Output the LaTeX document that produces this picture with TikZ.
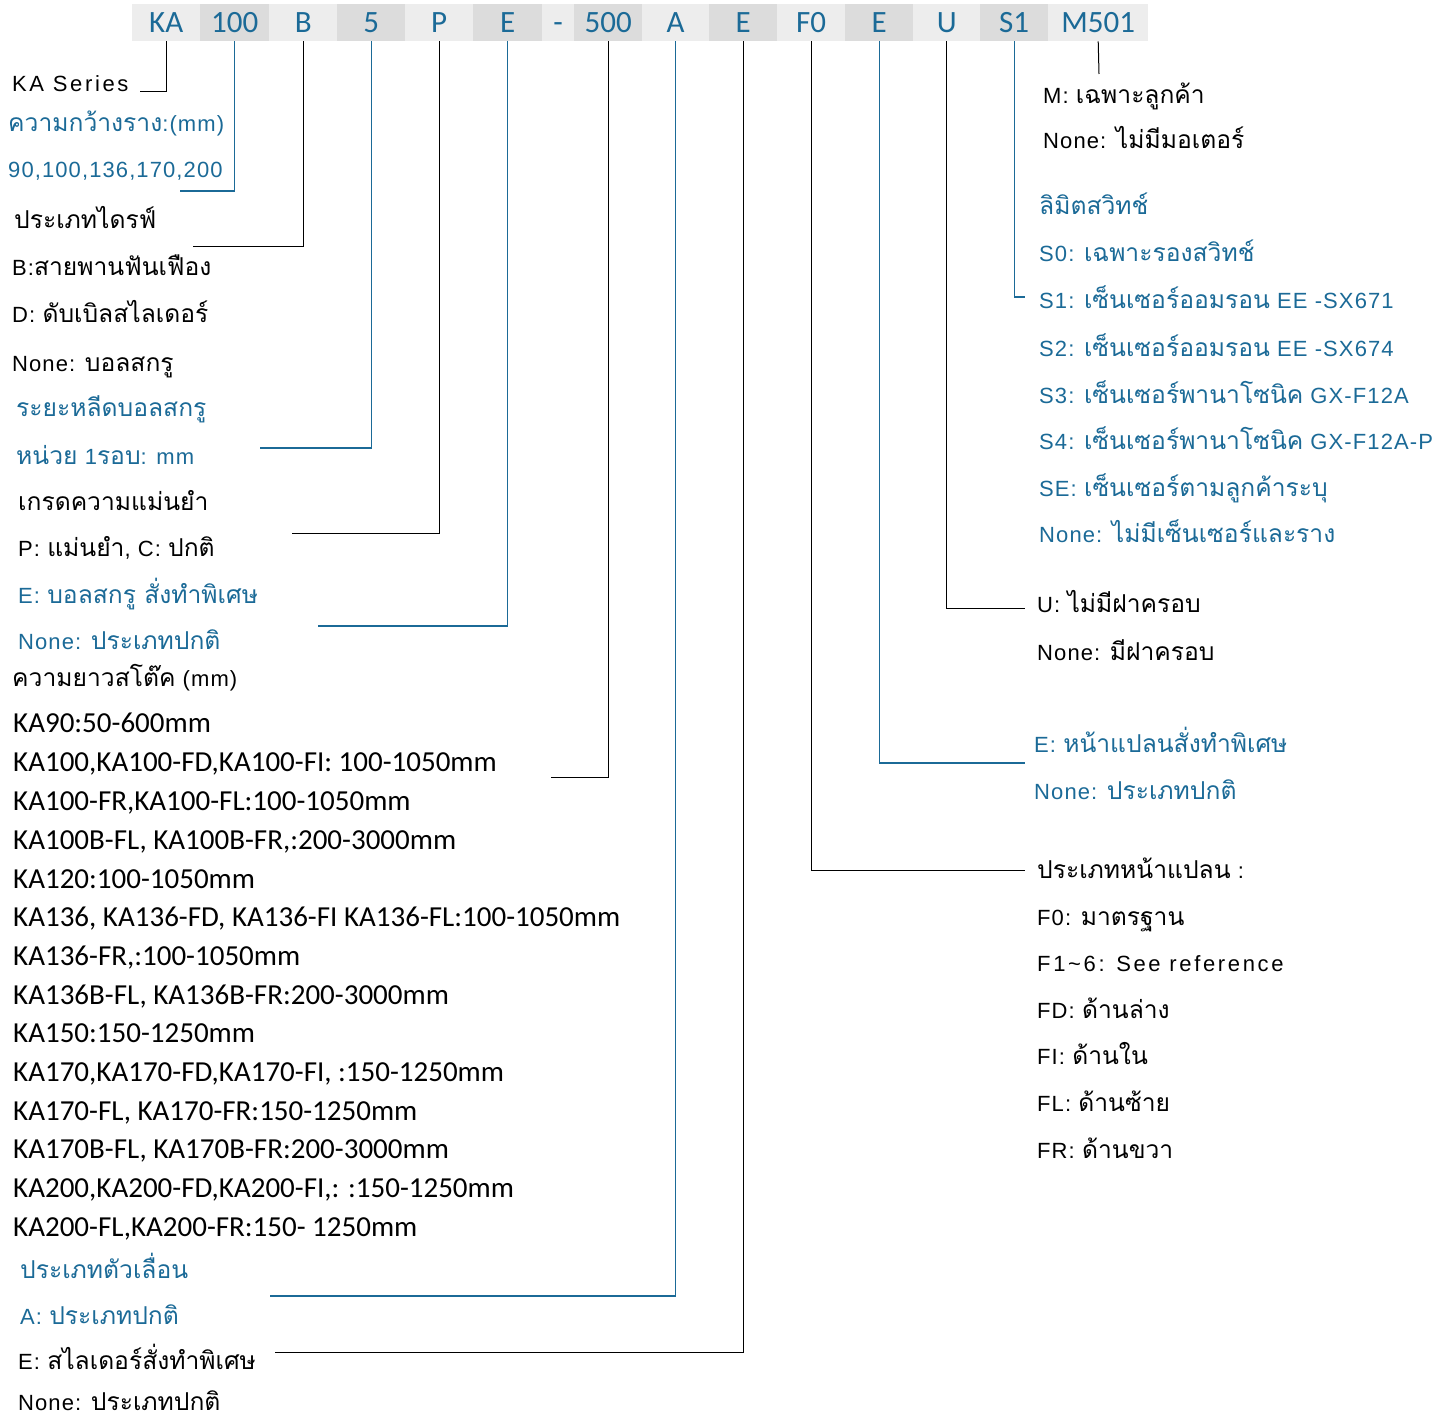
\documentclass[tikz,border=0pt]{standalone}
\usepackage{fontspec}
\setmainfont[LetterSpace=5]{Liberation Sans}
\newfontfamily\thf[Script=Thai,Scale=1.12]{Loma}
\newfontfamily\calf{Carlito}
\newfontfamily\wideLS[LetterSpace=12]{Liberation Sans}
\newcommand\T[1]{{\thf #1}}
\definecolor{kblue}{HTML}{1B6A97}
\definecolor{cellA}{HTML}{EDEDED}
\definecolor{cellB}{HTML}{DCDCDC}
\begin{document}
\begin{tikzpicture}[x=1pt,y=-1pt,
  cell/.style={minimum height=37pt, inner sep=0pt, text height=20pt, text depth=0pt,
    font=\calf\fontsize{31}{31}\selectfont, text=kblue, anchor=north west},
  ca/.style={cell, fill=cellA},
  cb/.style={cell, fill=cellB},
  lt/.style={anchor=base west, inner sep=0pt, font=\fontsize{22}{26}\selectfont},
  bt/.style={lt, text=kblue},
  kt/.style={lt, text=black},
  lst/.style={anchor=base west, inner sep=0pt, font=\calf\fontsize{29}{31}\selectfont},
  kl/.style={draw=black, line width=1pt},
  bl/.style={draw=kblue, line width=1.2pt}
]
\useasboundingbox (0,0) rectangle (1432,1420);
% code bar
\node[ca, minimum width=68pt] (cKA) at (132,4) {KA};
\node[cb, minimum width=69pt] (c100) at (200,4) {100};
\node[ca, minimum width=68pt] (cB) at (269,4) {B};
\node[cb, minimum width=68pt] (c5) at (337,4) {5};
\node[ca, minimum width=68pt] (cP) at (405,4) {P};
\node[cb, minimum width=69pt] (cE1) at (473,4) {E};
\node[ca, minimum width=32pt] (cdash) at (542,4) {-};
\node[cb, minimum width=68pt] (c500) at (574,4) {500};
\node[ca, minimum width=67pt] (cA) at (642,4) {A};
\node[cb, minimum width=68pt] (cE2) at (709,4) {E};
\node[ca, minimum width=68pt] (cF0) at (777,4) {F0};
\node[cb, minimum width=68pt] (cE3) at (845,4) {E};
\node[ca, minimum width=67pt] (cU) at (913,4) {U};
\node[cb, minimum width=68pt] (cS1) at (980,4) {S1};
\node[ca, minimum width=100pt] (cM) at (1048,4) {M501};

% left texts
\node[kt, font=\wideLS\fontsize{22}{26}\selectfont] (tKA) at (12,92) {KA Series};
\node[bt] (t100a) at (8,132) {\T{ความกว้างราง}:(mm)};
\node[bt] (t100b) at (8,178) {90,100,136,170,200};
\node[kt] (tBa) at (14,229) {\T{ประเภทไดรฟ์}};
\node[kt] (tBb) at (12,276) {B:\T{สายพานฟันเฟือง}};
\node[kt] (tBc) at (12,323) {D: \T{ดับเบิลสไลเดอร์}};
\node[kt] (tBd) at (12,371) {None: \T{บอลสกรู}};
\node[bt] (t5a) at (16,416) {\T{ระยะหลีดบอลสกรู}};
\node[bt] (t5b) at (16,464) {\T{หน่วย} 1\T{รอบ}: mm};
\node[kt] (tPa) at (18,510) {\T{เกรดความแม่นยำ}};
\node[kt] (tPb) at (18,556) {P: \T{แม่นยำ}, C: \T{ปกติ}};
\node[bt] (tEa) at (18,603) {E: \T{บอลสกรู สั่งทำพิเศษ}};
\node[bt] (tEb) at (18,649) {None: \T{ประเภทปกติ}};
\node[kt] (tL) at (12,686) {\T{ความยาวสโต๊ค} (mm)};
\node[lst] (l1) at (13,732) {KA90:50-600mm};
\node[lst] (l2) at (13,771) {KA100,KA100-FD,KA100-FI: 100-1050mm};
\node[lst] (l3) at (13,810) {KA100-FR,KA100-FL:100-1050mm};
\node[lst] (l4) at (13,849) {KA100B-FL, KA100B-FR,:200-3000mm};
\node[lst] (l5) at (13,888) {KA120:100-1050mm};
\node[lst] (l6) at (13,926) {KA136, KA136-FD, KA136-FI KA136-FL:100-1050mm};
\node[lst] (l7) at (13,965) {KA136-FR,:100-1050mm};
\node[lst] (l8) at (13,1004) {KA136B-FL, KA136B-FR:200-3000mm};
\node[lst] (l9) at (13,1042) {KA150:150-1250mm};
\node[lst] (l10) at (13,1081) {KA170,KA170-FD,KA170-FI, :150-1250mm};
\node[lst] (l11) at (13,1120) {KA170-FL, KA170-FR:150-1250mm};
\node[lst] (l12) at (13,1158) {KA170B-FL, KA170B-FR:200-3000mm};
\node[lst] (l13) at (13,1197) {KA200,KA200-FD,KA200-FI,: :150-1250mm};
\node[lst] (l14) at (13,1236) {KA200-FL,KA200-FR:150- 1250mm};
\node[bt] (tAa) at (20,1278) {\T{ประเภทตัวเลื่อน}};
\node[bt] (tAb) at (20,1324) {A: \T{ประเภทปกติ}};
\node[kt] (tSa) at (18,1369) {E: \T{สไลเดอร์สั่งทำพิเศษ}};
\node[kt] (tSb) at (18,1410) {None: \T{ประเภทปกติ}};

% right texts
\node[kt] (tMa) at (1043,104) {M: \T{เฉพาะลูกค้า}};
\node[kt] (tMb) at (1043,149) {None: \T{ไม่มีมอเตอร์}};
\node[bt] (tS0) at (1039,215) {\T{ลิมิตสวิทช์}};
\node[bt] (tS1) at (1039,262) {S0: \T{เฉพาะรองสวิทช์}};
\node[bt] (tS2) at (1039,309) {S1: \T{เซ็นเซอร์ออมรอน} EE -SX671};
\node[bt] (tS3) at (1039,356) {S2: \T{เซ็นเซอร์ออมรอน} EE -SX674};
\node[bt] (tS4) at (1039,403) {S3: \T{เซ็นเซอร์พานาโซนิค} GX-F12A};
\node[bt] (tS5) at (1039,449) {S4: \T{เซ็นเซอร์พานาโซนิค} GX-F12A-P};
\node[bt] (tS6) at (1039,496) {SE: \T{เซ็นเซอร์ตามลูกค้าระบุ}};
\node[bt] (tS7) at (1039,542) {None: \T{ไม่มีเซ็นเซอร์และราง}};
\node[kt] (tUa) at (1037,612) {U: \T{ไม่มีฝาครอบ}};
\node[kt] (tUb) at (1037,660) {None: \T{มีฝาครอบ}};
\node[bt] (tFEa) at (1034,752) {E: \T{หน้าแปลนสั่งทำพิเศษ}};
\node[bt] (tFEb) at (1034,799) {None: \T{ประเภทปกติ}};
\node[kt] (tF0) at (1037,878) {\T{ประเภทหน้าแปลน} :};
\node[kt] (tF1) at (1037,925) {F0: \T{มาตรฐาน}};
\node[kt, font=\wideLS\fontsize{22}{26}\selectfont] (tF2) at (1037,971) {F1\char"007E 6: See reference};
\node[kt] (tF3) at (1037,1018) {FD: \T{ด้านล่าง}};
\node[kt] (tF4) at (1037,1064) {FI: \T{ด้านใน}};
\node[kt] (tF5) at (1037,1111) {FL: \T{ด้านซ้าย}};
\node[kt] (tF6) at (1037,1158) {FR: \T{ด้านขวา}};

% connector end points
\coordinate (eKA) at (140,92);
\coordinate (e100) at (180,191);
\coordinate (eB) at (193,247);
\coordinate (e5) at (260,448);
\coordinate (eP) at (292,533);
\coordinate (eE1) at (318,626);
\coordinate (e500) at (551,777);
\coordinate (eA) at (270,1296);
\coordinate (eE2) at (275,1352);
\coordinate (eF0) at (1025,870);
\coordinate (eE3) at (1025,763);
\coordinate (eU) at (1025,608);
\coordinate (eS1) at (1025,297);
\coordinate (eM) at (1099,74);

\draw[kl] (cKA.south) |- (eKA);
\draw[bl] (c100.south) |- (e100);
\draw[kl] (cB.south) |- (eB);
\draw[bl] (c5.south) |- (e5);
\draw[kl] (cP.south) |- (eP);
\draw[bl] (cE1.south) |- (eE1);
\draw[kl] (c500.south) |- (e500);
\draw[bl] (cA.south) |- (eA);
\draw[kl] (cE2.south) |- (eE2);
\draw[kl] (cF0.south) |- (eF0);
\draw[bl] (cE3.south) |- (eE3);
\draw[kl] (cU.south) |- (eU);
\draw[bl] (cS1.south) |- (eS1);
\draw[kl] (cM.south) -- (eM);
\end{tikzpicture}
\end{document}
